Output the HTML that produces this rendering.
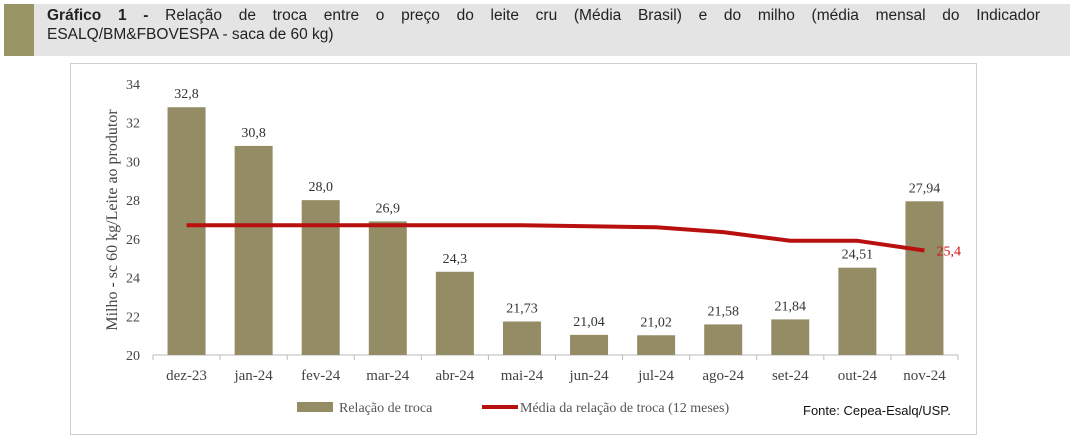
<!DOCTYPE html>
<html><head><meta charset="utf-8"><style>
body{margin:0;width:1070px;height:434px;background:#fff;overflow:hidden;position:relative;font-family:"Liberation Sans",sans-serif}
#hdr{position:absolute;left:34px;top:4px;width:1036px;height:52px;background:#e4e4e4}
#blk{position:absolute;left:4px;top:4px;width:30px;height:52px;background:#9a9565}
.tl{position:absolute;left:47px;width:993px;font-size:15.5px;line-height:19px;color:#222;white-space:nowrap}
#t1{top:6px;text-align:justify;text-align-last:justify;white-space:normal}
#t2{top:25px}
#box{position:absolute;left:70px;top:63px;width:907px;height:372px;border:1px solid #cfcfcf;box-sizing:border-box}
svg{position:absolute;left:0;top:0}
</style></head><body>
<div id="hdr"></div>
<div id="blk"></div>
<div id="t1" class="tl"><b>Gráfico 1 -</b> Relação de troca entre o preço do leite cru (Média Brasil) e do milho (média mensal do Indicador</div>
<div id="t2" class="tl">ESALQ/BM&amp;FBOVESPA - saca de 60 kg)</div>
<div id="box"></div>
<svg id="chart" width="1070" height="434"></svg>
<script>
const categories=["dez-23","jan-24","fev-24","mar-24","abr-24","mai-24","jun-24","jul-24","ago-24","set-24","out-24","nov-24"];
const barValues=[32.8,30.8,28.0,26.9,24.3,21.73,21.04,21.02,21.58,21.84,24.51,27.94];
const barLabels=["32,8","30,8","28,0","26,9","24,3","21,73","21,04","21,02","21,58","21,84","24,51","27,94"];
const avgValues=[26.7,26.7,26.7,26.7,26.7,26.7,26.65,26.6,26.35,25.9,25.9,25.4];
const yTicks=[20,22,24,26,28,30,32,34];
const NS="http://www.w3.org/2000/svg";
const svg=document.getElementById('chart');
const x0=153,x1=958,yBase=355,yTop=84;
const step=(x1-x0)/categories.length;
const X=i=>x0+step*(i+0.5);
const Y=v=>yBase-(v-20)*(yBase-yTop)/14;
function mk(t,a){const e=document.createElementNS(NS,t);for(const k in a)e.setAttribute(k,a[k]);svg.appendChild(e);return e;}
const serif='"Liberation Serif",serif';
yTicks.forEach(v=>{const t=mk('text',{x:140,y:Y(v)+5,'text-anchor':'end','font-size':14,fill:'#444','font-family':serif});t.textContent=v;
});
const yt=mk('text',{transform:'translate(117,220) rotate(-90)','text-anchor':'middle','font-size':16,fill:'#444','font-family':serif});
yt.textContent='Milho - sc 60 kg/Leite ao produtor';

const ax=mk('line',{x1:x0,y1:yBase,x2:x1,y2:yBase,stroke:'#bbb','stroke-width':1});

for(let i=0;i<=categories.length;i++){mk('line',{x1:x0+step*i,y1:yBase,x2:x0+step*i,y2:yBase+5,stroke:'#bbb'});}
categories.forEach((c,i)=>{
 const b=mk('rect',{x:X(i)-19,y:Y(barValues[i]),width:38,height:yBase-Y(barValues[i]),fill:'#948c64'});
 
 const l=mk('text',{x:X(i),y:Y(barValues[i])-9,'text-anchor':'middle','font-size':14,fill:'#333','font-family':serif});l.textContent=barLabels[i];
 
 const t=mk('text',{x:X(i),y:380,'text-anchor':'middle','font-size':15,fill:'#444','font-family':serif});t.textContent=c;
 
});
const pl=mk('polyline',{points:avgValues.map((v,i)=>X(i)+','+Y(v)).join(' '),fill:'none',stroke:'#b80f0f','stroke-width':4,'stroke-linejoin':'round'});

const al=mk('text',{x:X(11)+12,y:Y(avgValues[11])+5,'font-size':14,fill:'#d01010','font-family':serif});al.textContent='25,4';

const lg1=mk('rect',{x:297,y:402,width:36,height:10,fill:'#948c64'});
const lt1=mk('text',{x:339,y:412,'font-size':14,fill:'#555','font-family':serif});lt1.textContent='Relação de troca';

const lg2=mk('line',{x1:482,y1:407,x2:518,y2:407,stroke:'#b80f0f','stroke-width':4});
const lt2=mk('text',{x:520,y:412,'font-size':14,fill:'#555','font-family':serif});lt2.textContent='Média da relação de troca (12 meses)';

const src=mk('text',{x:803,y:415,'font-size':13,fill:'#111','font-family':'"Liberation Sans",sans-serif'});src.textContent='Fonte: Cepea-Esalq/USP.';

</script>
</body></html>
